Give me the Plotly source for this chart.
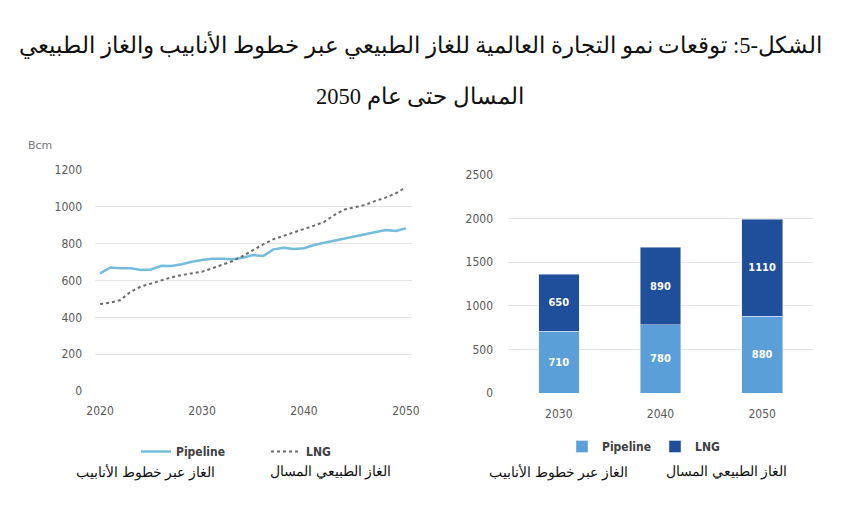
import plotly.graph_objects as go

years = list(range(2020, 2051))
pipeline_line = [639, 671, 666, 666, 657, 660, 680, 679, 688, 702, 711, 718, 718, 715, 724, 738,
                 733, 769, 778, 771, 775, 793, 805, 816, 829, 840, 851, 860, 874, 869, 883]
lng_line = [472, 480, 494, 539, 567, 585, 599, 617, 630, 639, 648, 666, 684, 706, 733, 766,
            796, 824, 842, 860, 880, 898, 919, 956, 986, 997, 1010, 1032, 1050, 1073, 1106]

bar_years = ["2030", "2040", "2050"]
pipeline_bar = [710, 780, 880]
lng_bar = [650, 890, 1110]

title_line1 = "الشكل-5: توقعات نمو التجارة العالمية للغاز الطبيعي عبر خطوط الأنابيب والغاز الطبيعي"
title_line2 = "المسال حتى عام 2050"
ar_pipeline = "الغاز عبر خطوط الأنابيب"
ar_lng = "الغاز الطبيعي المسال"

# page body has an 8px default margin; figure is sized to fit the 860x518 window
OFF = 8
W, H = 860 - 2 * OFF, 518 - 2 * OFF
def px(x):
    return (x - OFF) / W
def py(y):
    return 1 - (y - OFF) / H

tick_font = dict(family="DejaVu Sans Condensed", size=12, color="#595959")
leg_font = dict(family="DejaVu Sans Condensed", size=12, color="#404040")

fig = go.Figure()

fig.add_trace(go.Scatter(x=years, y=pipeline_line, mode="lines", name="<b>Pipeline</b>",
                         line=dict(color="#74bcdc", width=2.5), xaxis="x", yaxis="y",
                         legend="legend"))
fig.add_trace(go.Scatter(x=years, y=lng_line, mode="lines", name="<b>LNG</b>",
                         line=dict(color="#6b6b6b", width=2, dash="dot"), xaxis="x", yaxis="y",
                         legend="legend"))

fig.add_trace(go.Bar(x=bar_years, y=pipeline_bar, name="<b>Pipeline</b>", marker_color="#5b9fd8",
                     text=[f"<b>{v}</b>" for v in pipeline_bar], textposition="inside",
                     insidetextanchor="middle",
                     textfont=dict(color="white", size=11, family="DejaVu Sans Condensed"),
                     xaxis="x2", yaxis="y2", legend="legend2"))
fig.add_trace(go.Bar(x=bar_years, y=lng_bar, name="<b>LNG</b>", marker_color="#1f4e9a",
                     text=[f"<b>{v}</b>" for v in lng_bar], textposition="inside",
                     insidetextanchor="middle",
                     textfont=dict(color="white", size=11, family="DejaVu Sans Condensed"),
                     xaxis="x2", yaxis="y2", legend="legend2"))

fig.update_layout(
    width=W, height=H,
    margin=dict(l=0, r=0, t=0, b=0, autoexpand=False),
    paper_bgcolor="white", plot_bgcolor="white",
    barmode="stack", bargap=0.6,
    showlegend=True,
    xaxis=dict(domain=[px(95), px(412)], range=[2019.5, 2050.6], tickvals=[2020, 2030, 2040, 2050],
               showgrid=False, zeroline=False, showline=False, tickfont=tick_font, ticks="",
               automargin=False, ticklabelstandoff=11),
    yaxis=dict(domain=[py(391), py(170)], range=[0, 1200], dtick=200, showgrid=True,
               gridcolor="#e6e6e6", gridwidth=1, zeroline=False, showline=False,
               tickfont=tick_font, ticks="", ticklabelstandoff=12, automargin=False),
    xaxis2=dict(domain=[px(508), px(813)], anchor="y2", showgrid=False, zeroline=False,
                showline=False, tickfont=tick_font, ticks="", automargin=False,
                ticklabelstandoff=12),
    yaxis2=dict(domain=[py(393), py(175)], anchor="x2", range=[0, 2500], dtick=500, showgrid=True,
                gridcolor="#e6e6e6", gridwidth=1, zeroline=False, showline=False,
                tickfont=tick_font, ticks="", ticklabelstandoff=14, automargin=False),
    legend=dict(orientation="h", x=px(136), y=py(437), xanchor="left", yanchor="top",
                font=leg_font, entrywidth=85, itemwidth=30, bgcolor="rgba(0,0,0,0)",
                traceorder="normal"),
    legend2=dict(orientation="h", x=px(562), y=py(432), xanchor="left", yanchor="top",
                 font=leg_font, entrywidth=48, itemwidth=30, bgcolor="rgba(0,0,0,0)",
                 traceorder="normal"),
)

ann_font = dict(family="Liberation Serif", size=22.5, color="#111111")
fig.add_annotation(text=title_line1, x=px(420), y=py(45), xref="paper", yref="paper",
                   showarrow=False, font=ann_font, xanchor="center", yanchor="middle")
fig.add_annotation(text=title_line2, x=px(420), y=py(97), xref="paper", yref="paper",
                   showarrow=False, font=ann_font, xanchor="center", yanchor="middle")

fig.add_annotation(text="Bcm", x=px(26), y=py(145), xref="paper", yref="paper", showarrow=False,
                   font=dict(family="DejaVu Sans", size=11, color="#777777"),
                   xanchor="left", yanchor="middle")

sub_font = dict(family="Liberation Serif", size=14, color="#111111")
for text, cx in [(ar_pipeline, 145), (ar_lng, 330), (ar_pipeline, 558), (ar_lng, 726)]:
    fig.add_annotation(text=text, x=px(cx), y=py(472), xref="paper", yref="paper",
                       showarrow=False, font=sub_font, xanchor="center", yanchor="middle")

fig.write_html("out.html")
